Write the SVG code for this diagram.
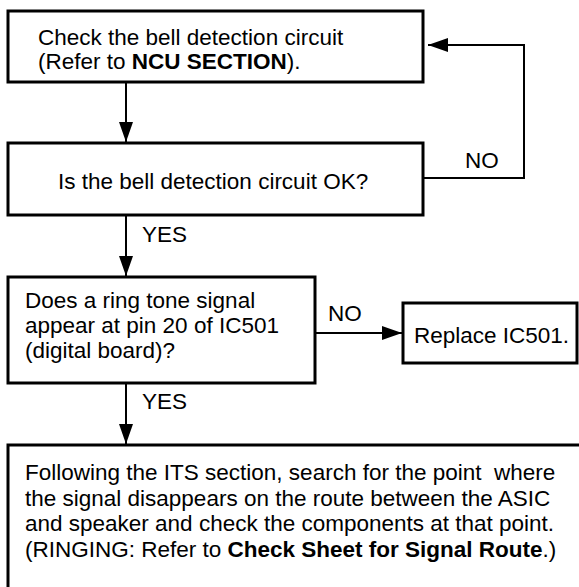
<svg xmlns="http://www.w3.org/2000/svg" width="579" height="587" viewBox="0 0 579 587">
<style>
.box{fill:#fff;stroke:#000;stroke-width:3}
.t{font-family:"Liberation Sans",Arial,sans-serif;font-size:22.5px;fill:#000}
.b{font-weight:bold}
.c{fill:none;stroke:#000;stroke-width:2}
</style>
<defs>
<marker id="ah" markerUnits="userSpaceOnUse" markerWidth="20" markerHeight="14" refX="20" refY="7" orient="auto">
<path d="M0,0 L20,7 L0,14 Z" fill="#000"/>
</marker>
</defs>
<rect width="579" height="587" fill="#fff"/>
<g id="connectors">
<line class="c" x1="126" y1="82" x2="126" y2="142" marker-end="url(#ah)"/>
<polyline class="c" points="423,178 524,178 524,45 428,45" marker-end="url(#ah)"/>
<line class="c" x1="126" y1="215" x2="126" y2="276" marker-end="url(#ah)"/>
<line class="c" x1="315" y1="333" x2="402" y2="333" marker-end="url(#ah)"/>
<line class="c" x1="126" y1="383" x2="126" y2="444" marker-end="url(#ah)"/>
<text class="t" x="465" y="168" font-size="20.5">NO</text>
<text class="t" x="142" y="242" font-size="21">YES</text>
<text class="t" x="328" y="321" font-size="21">NO</text>
<text class="t" x="142" y="409" font-size="21">YES</text>
</g>
<g id="n1">
<rect class="box" x="8" y="11" width="415" height="71"/>
<text class="t" x="38" y="45">Check the bell detection circuit</text>
<text class="t" x="38" y="69">(Refer to <tspan class="b">NCU SECTION</tspan>).</text>
</g>
<g id="n2">
<rect class="box" x="8" y="143" width="415" height="72"/>
<text class="t" x="58" y="189">Is the bell detection circuit OK?</text>
</g>
<g id="n3">
<rect class="box" x="8" y="277" width="307" height="106"/>
<text class="t" x="25" y="308">Does a ring tone signal</text>
<text class="t" x="25" y="333">appear at pin 20 of IC501</text>
<text class="t" x="25" y="358">(digital board)?</text>
</g>
<g id="n4">
<rect class="box" x="403" y="303" width="174" height="60"/>
<text class="t" x="414" y="343">Replace IC501.</text>
</g>
<g id="n5">
<rect class="box" x="8" y="445" width="590" height="160"/>
<text class="t" x="25" y="480" xml:space="preserve">Following the ITS section, search for the point  where</text>
<text class="t" x="25" y="505.5">the signal disappears on the route between the ASIC</text>
<text class="t" x="25" y="531">and speaker and check the components at that point.</text>
<text class="t" x="25" y="556.5">(RINGING: Refer to <tspan class="b">Check Sheet for Signal Route</tspan>.)</text>
</g>
</svg>
